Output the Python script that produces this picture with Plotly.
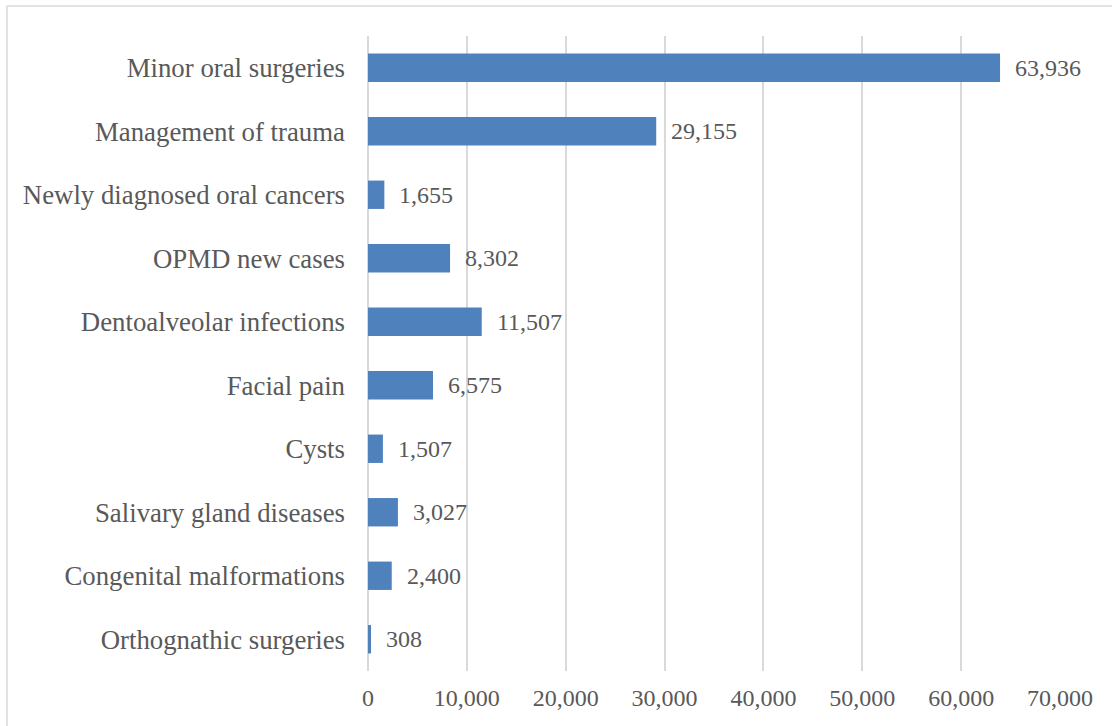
import plotly.graph_objects as go

categories = [
    "Minor oral surgeries",
    "Management of trauma",
    "Newly diagnosed oral cancers",
    "OPMD new cases",
    "Dentoalveolar infections",
    "Facial pain",
    "Cysts",
    "Salivary gland diseases",
    "Congenital malformations",
    "Orthognathic surgeries",
]
counts = [63936, 29155, 1655, 8302, 11507, 6575, 1507, 3027, 2400, 308]
tick_values = [0, 10000, 20000, 30000, 40000, 50000, 60000, 70000]
tick_labels = ["0", "10,000", "20,000", "30,000", "40,000", "50,000", "60,000", "70,000"]

W, H = 1112, 726
L, R, T, B = 368, 52, 36, 55
FONT = "Liberation Serif, Times New Roman, serif"
TEXT = "#595959"
GRID = "#D9D9D9"

fig = go.Figure(
    go.Bar(
        y=categories,
        x=counts,
        orientation="h",
        marker=dict(color="#4F81BD", line=dict(width=0)),
        hoverinfo="x+y",
    )
)

# value labels to the right of each bar
for cat, val in zip(categories, counts):
    fig.add_annotation(
        x=val, y=cat, xref="x", yref="y",
        text=f"{val:,}", showarrow=False,
        xanchor="left", yanchor="middle", xshift=13,
        font=dict(family=FONT, size=24, color=TEXT),
    )

# outer chart frame (top and left edges)
pw = W - L - R
ph = H - T - B
def px_to_paper_x(px):
    return (px - L) / pw
def py_to_paper_y(py):
    return (H - B - py) / ph

fig.add_shape(type="line", xref="paper", yref="paper",
              x0=px_to_paper_x(7), x1=px_to_paper_x(W + 5),
              y0=py_to_paper_y(6), y1=py_to_paper_y(6),
              line=dict(color=GRID, width=1.5))
fig.add_shape(type="line", xref="paper", yref="paper",
              x0=px_to_paper_x(7), x1=px_to_paper_x(7),
              y0=py_to_paper_y(6), y1=py_to_paper_y(H + 5),
              line=dict(color=GRID, width=1.5))

fig.update_layout(
    width=W, height=H,
    margin=dict(l=L, r=R, t=T, b=B),
    paper_bgcolor="white", plot_bgcolor="white",
    bargap=0.553,
    showlegend=False,
    font=dict(family=FONT, size=24, color=TEXT),
    xaxis=dict(
        range=[0, 70000],
        tickvals=tick_values, ticktext=tick_labels,
        showgrid=True, gridcolor=GRID, gridwidth=1.5,
        zeroline=True, zerolinecolor=GRID, zerolinewidth=1.5,
        showline=False, ticks="",
        tickfont=dict(family=FONT, size=24, color=TEXT),
        ticklabelstandoff=10,
    ),
    yaxis=dict(
        categoryorder="array", categoryarray=categories[::-1],
        showgrid=False, showline=False, ticks="",
        tickfont=dict(family=FONT, size=26.8, color=TEXT),
        ticklabelstandoff=22,
    ),
)

fig.write_html("out.html")
